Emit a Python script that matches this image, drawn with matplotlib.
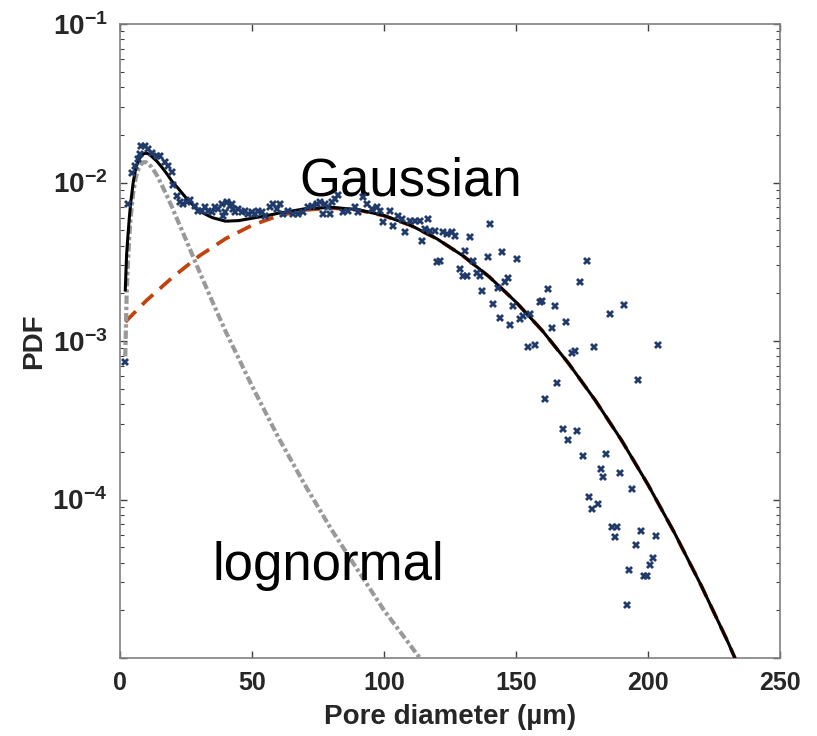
import numpy as np
import matplotlib
matplotlib.use("Agg")
import matplotlib.pyplot as plt

plt.rcParams['font.family'] = ['Liberation Sans', 'DejaVu Sans']
plt.rcParams['mathtext.fontset'] = 'custom'
plt.rcParams['mathtext.rm'] = 'Liberation Sans:bold'
plt.rcParams['mathtext.it'] = 'Liberation Sans:bold'
plt.rcParams['mathtext.bf'] = 'Liberation Sans:bold'

# measured pore size distribution (scatter)
pore_x = [1.9, 3.1, 4.7, 5.7, 6.9, 7.6, 8.0, 9.5, 10.7, 12.2, 13.9, 15.2, 17.0, 18.3, 19.6,
          20.2, 21.5, 22.7, 24.0, 25.3, 26.5, 28.4, 29.7, 30.9, 32.2, 33.4, 34.7, 36.0, 37.2,
          38.5, 38.9, 39.8, 40.4, 41.7, 42.3, 42.9, 43.6, 44.8, 46.1, 47.3, 48.6, 49.9, 51.1,
          52.4, 53.7, 54.9, 56.8, 58.1, 59.4, 60.6, 61.9, 63.8, 65.6, 67.5, 69.4, 71.3, 72.6,
          74.5, 75.8, 77.0, 77.7, 78.9, 79.5, 80.2, 81.4, 82.7, 84.6, 86.5, 89.0, 90.3, 92.2,
          93.4, 95.3, 97.2, 98.5, 99.7, 102.3, 103.5, 105.4, 106.7, 108.0, 109.8, 111.7, 113.6,
          114.3, 115.5, 116.8, 117.4, 119.3, 120.0, 121.2, 122.5, 123.7, 125.6, 126.9, 128.8,
          130.0, 130.7, 131.3, 132.6, 133.8, 135.1, 136.4, 137.0, 139.5, 140.2, 141.4, 143.3,
          143.9, 144.6, 145.8, 147.1, 147.7, 149.0, 150.3, 151.5, 152.8, 154.7, 155.3, 157.2,
          159.1, 159.7, 161.0, 162.2, 163.5, 164.8, 165.4, 167.9, 168.9, 169.8, 171.1, 172.3,
          173.2, 174.2, 175.3, 176.8, 177.8, 178.7, 179.7, 181.2, 182.1, 183.1, 184.1, 185.6,
          186.2, 187.5, 188.4, 189.4, 190.9, 191.9, 192.9, 193.8, 195.5, 196.3, 197.2, 198.5,
          199.7, 200.8, 201.8, 203.0, 203.9]
pore_pdf = [7.4e-4, 7.3e-3, 1.14e-2, 1.28e-2, 1.41e-2, 1.52e-2, 1.71e-2, 1.69e-2, 1.63e-2,
            1.53e-2, 1.48e-2, 1.48e-2, 1.35e-2, 1.28e-2, 1.16e-2,
            9.6e-3, 8.2e-3, 7.5e-3, 7.3e-3, 7.5e-3, 7.7e-3, 7.15e-3, 6.65e-3, 6.65e-3, 6.98e-3,
            6.65e-3, 6.5e-3, 6.98e-3, 6.82e-3,
            7.33e-3, 6.18e-3, 6.5e-3, 7.5e-3, 7.15e-3, 7.3e-3, 6.82e-3, 6.5e-3, 6.82e-3, 6.5e-3,
            6.65e-3, 6.33e-3, 6.5e-3, 6.33e-3,
            6.65e-3, 6.5e-3, 6.18e-3, 6.98e-3, 7.33e-3, 6.82e-3, 7.33e-3, 6.33e-3, 6.65e-3,
            6.33e-3, 6.33e-3, 6.5e-3, 6.98e-3, 7.15e-3,
            7.33e-3, 7.5e-3, 6.33e-3, 7.33e-3, 6.98e-3, 6.33e-3, 7.5e-3, 7.88e-3, 8.28e-3,
            6.5e-3, 6.65e-3, 6.98e-3, 6.5e-3, 8.07e-3,
            7.33e-3, 6.82e-3, 6.98e-3, 6.65e-3, 5.61e-3, 6.65e-3, 5.35e-3, 6.18e-3, 5.89e-3,
            4.84e-3, 5.75e-3, 5.75e-3, 5.75e-3,
            4.3e-3, 5.09e-3, 5.89e-3, 4.97e-3, 4.97e-3, 3.13e-3, 3.2e-3, 4.84e-3, 4.73e-3,
            4.84e-3, 4.62e-3, 2.84e-3,
            2.58e-3, 3.72e-3, 2.58e-3, 4.51e-3, 3.2e-3, 2.7e-3, 2.58e-3, 2.07e-3, 3.37e-3,
            5.48e-3, 1.71e-3, 2.17e-3,
            1.4e-3, 3.62e-3, 2.34e-3, 2.51e-3, 1.27e-3, 1.67e-3, 3.29e-3, 1.37e-3, 1.44e-3,
            9.1e-4, 1.48e-3, 9.4e-4,
            1.75e-3, 1.8e-3, 4.3e-4, 2.12e-3, 1.21e-3, 1.67e-3, 5.4e-4, 2.8e-4, 1.31e-3,
            2.39e-4, 8.4e-4, 8.6e-4,
            2.7e-4, 2.34e-3, 1.87e-4, 3.2e-3, 1.04e-4, 8.7e-5, 9.1e-4, 9.3e-5, 1.56e-4,
            1.38e-4, 1.95e-4, 1.48e-3,
            6.7e-5, 5.8e-5, 6.7e-5, 1.47e-4, 1.69e-3, 2.17e-5, 3.6e-5, 1.16e-4, 5.2e-5,
            5.7e-4, 6.3e-5, 3.3e-5,
            3.3e-5, 3.86e-5, 4.3e-5, 5.9e-5, 9.5e-4]

# lognormal component
logn_x = [2, 2.5, 3, 3.5, 4, 5, 6, 7, 8, 9, 10, 12, 14, 16, 18, 20, 25, 30, 35, 40,
          50, 60, 70, 80, 90, 100, 110, 115]
logn_y = [8.0e-4, 1.9e-3, 3.1e-3, 4.5e-3, 5.9e-3, 8.6e-3, 1.08e-2, 1.22e-2, 1.31e-2,
          1.345e-2, 1.34e-2, 1.25e-2, 1.11e-2, 9.5e-3, 8.1e-3, 6.8e-3, 4.35e-3, 2.76e-3,
          1.77e-3, 1.15e-3, 5.2e-4, 2.46e-4, 1.24e-4, 6.5e-5, 3.6e-5, 2.0e-5, 1.2e-5, 9.3e-6]

# gaussian component
gauss_x = [2, 10, 20, 30, 40, 50, 60, 70, 80, 90, 100, 110, 120, 130, 140, 150, 160,
           170, 180, 190, 200, 210, 220, 230, 240]
gauss_y = [1.32e-3, 1.8e-3, 2.53e-3, 3.44e-3, 4.42e-3, 5.37e-3, 6.17e-3, 6.71e-3, 6.9e-3,
           6.71e-3, 6.17e-3, 5.37e-3, 4.42e-3, 3.44e-3, 2.53e-3, 1.76e-3, 1.16e-3, 7.19e-4,
           4.23e-4, 2.36e-4, 1.24e-4, 6.17e-5, 2.9e-5, 1.29e-5, 5.4e-6]

# combined fit
fit_x = [2, 2.5, 3, 3.5, 4, 5, 6, 7, 8, 9, 10, 11, 12, 14, 16, 18, 20, 22, 25, 28, 30,
         35, 40, 45, 50, 55, 60, 65, 70, 80, 90, 100, 110, 120, 130, 140, 150, 160, 170,
         180, 190, 200, 210, 220, 230, 240]
fit_y = [2.1e-3, 3.5e-3, 4.6e-3, 5.9e-3, 7.3e-3, 1.0e-2, 1.24e-2, 1.38e-2, 1.47e-2,
         1.52e-2, 1.53e-2, 1.51e-2, 1.46e-2, 1.36e-2, 1.24e-2, 1.12e-2, 1.0e-2, 9.2e-3,
         8.0e-3, 7.1e-3, 6.6e-3, 6.0e-3, 5.7e-3, 5.75e-3, 5.95e-3, 6.15e-3, 6.4e-3, 6.6e-3,
         6.83e-3, 6.97e-3, 6.75e-3, 6.19e-3, 5.38e-3, 4.42e-3, 3.44e-3, 2.53e-3, 1.76e-3,
         1.16e-3, 7.19e-4, 4.23e-4, 2.36e-4, 1.24e-4, 6.17e-5, 2.9e-5, 1.29e-5, 5.4e-6]

ytick_vals = [1e-5, 1e-4, 1e-3, 1e-2, 1e-1]
ytick_text = ['', r'$10^{-4}$', r'$10^{-3}$', r'$10^{-2}$', r'$10^{-1}$']
xtick_vals = [0, 50, 100, 150, 200, 250]

fig = plt.figure(figsize=(8.17, 7.36), dpi=100)
ax = fig.add_axes([120 / 817, 1 - 658 / 736, 660 / 817, 634 / 736])

ax.plot(gauss_x, gauss_y, color='#C1440E', lw=2.7, dashes=(4, 2.4), zorder=2)
ax.plot(logn_x, logn_y, color='#999999', lw=3.0, dashes=(2.0, 0.7, 0.8, 0.7), zorder=3)
ax.plot(fit_x, fit_y, color='black', lw=2.2, zorder=4)
ax.plot(pore_x, pore_pdf, ls='none', marker='X', ms=6, mew=0, color='#203A6B', zorder=5)

ax.set_yscale('log')
ax.set_xlim(0, 250)
ax.set_ylim(1e-5, 1e-1)
ax.set_yticks(ytick_vals)
ax.set_yticklabels(ytick_text)
ax.set_xticks(xtick_vals)

ax.text(68, 8.3e-3, 'Gaussian', fontsize=38, ha='left', va='baseline')
ax.text(35, 3.1e-5, 'lognormal', fontsize=38, ha='left', va='baseline')

for side in ax.spines.values():
    side.set_color('#808080')
    side.set_linewidth(1.2)
ax.tick_params(which='both', direction='in', top=True, right=True, colors='#404040',
               labelcolor='#262626')
ax.tick_params(which='major', length=5, width=1.0)
ax.tick_params(which='minor', length=3, width=0.8)
ax.tick_params(axis='x', labelsize=18, pad=9)
ax.tick_params(axis='y', labelsize=20, pad=9)
for lbl in ax.get_xticklabels():
    lbl.set_fontweight('bold')

ax.set_xlabel('Pore diameter (µm)', fontsize=20, fontweight='bold', color='#262626', labelpad=7)
ax.set_ylabel('PDF', fontsize=20, fontweight='bold', color='#262626', labelpad=4)

fig.savefig('out.png', dpi=100)
